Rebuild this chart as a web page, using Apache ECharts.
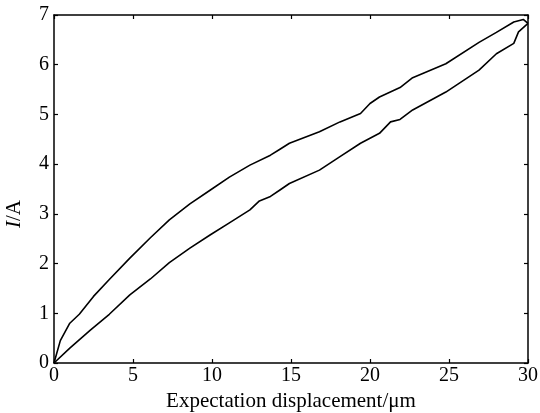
<!DOCTYPE html>
<html>
<head>
<meta charset="utf-8">
<script src="https://cdn.jsdelivr.net/npm/echarts@6/dist/echarts.min.js"></script>
<style>
  html, body { margin: 0; padding: 0; background: #fff; }
  #chart { width: 540px; height: 413px; }
</style>
</head>
<body>
<div id="chart"></div>
<script>
// upper branch of the loop
const upperX = [0, 0.4, 1.0, 1.6, 2.5, 3.5, 4.8, 6.1, 7.3, 8.6, 9.9, 11.1, 12.4, 13.7, 14.3, 14.9, 16.8, 18.1, 19.4, 20.0, 20.6, 21.9, 22.7, 24.8, 26.9, 28.0, 29.1, 29.7, 30]
const upperY = [0, 0.45, 0.8, 0.98, 1.34, 1.68, 2.11, 2.52, 2.88, 3.2, 3.48, 3.74, 3.98, 4.18, 4.3, 4.42, 4.65, 4.85, 5.02, 5.22, 5.35, 5.54, 5.74, 6.02, 6.45, 6.65, 6.86, 6.91, 6.83]
// lower branch of the loop
const lowerX = [0, 1.0, 2.3, 3.5, 4.8, 6.1, 7.3, 8.6, 9.9, 11.1, 12.4, 13.0, 13.7, 14.3, 14.9, 16.8, 18.1, 19.4, 20.6, 21.3, 21.9, 22.7, 24.8, 26.9, 28.0, 29.1, 29.4, 30]
const lowerY = [0, 0.30, 0.66, 0.98, 1.37, 1.69, 2.02, 2.31, 2.58, 2.82, 3.08, 3.26, 3.35, 3.48, 3.61, 3.88, 4.15, 4.42, 4.62, 4.85, 4.90, 5.09, 5.45, 5.89, 6.22, 6.43, 6.66, 6.83]

const font = 'Liberation Serif'
const chart = echarts.init(document.getElementById('chart'))

const tickStyle = { show: true, inside: true, length: 4, lineStyle: { color: '#000', width: 1.2 } }
const axisLine = { show: true, onZero: false, lineStyle: { color: '#000', width: 1.5 } }

const option = {
  backgroundColor: '#fff',
  animation: false,
  grid: { left: 54, top: 15, right: 12, bottom: 50, containLabel: false, outerBoundsMode: 'none' },
  xAxis: [
    {
      type: 'value', min: 0, max: 30, interval: 5,
      name: 'Expectation displacement/\u03bcm',
      nameLocation: 'middle', nameGap: 27,
      nameTextStyle: { fontFamily: font, fontSize: 21, color: '#000' },
      axisLine: axisLine,
      axisTick: tickStyle,
      axisLabel: { fontFamily: font, fontSize: 20, color: '#000', margin: 3 },
      splitLine: { show: false }
    },
    {
      type: 'value', min: 0, max: 30, interval: 5, position: 'top',
      axisLine: axisLine,
      axisTick: tickStyle,
      axisLabel: { show: false },
      splitLine: { show: false }
    }
  ],
  yAxis: [
    {
      type: 'value', min: 0, max: 7, interval: 1,
      name: '{i|I}/A',
      nameLocation: 'middle', nameGap: 29, nameRotate: 90,
      nameTextStyle: {
        fontFamily: font, fontSize: 21, color: '#000',
        padding: [0, 50, 0, 0],
        rich: { i: { fontFamily: font, fontSize: 21, fontStyle: 'italic', color: '#000' } }
      },
      axisLine: axisLine,
      axisTick: tickStyle,
      axisLabel: { fontFamily: font, fontSize: 20, color: '#000', margin: 5 },
      splitLine: { show: false }
    },
    {
      type: 'value', min: 0, max: 7, interval: 1, position: 'right',
      axisLine: axisLine,
      axisTick: tickStyle,
      axisLabel: { show: false },
      splitLine: { show: false }
    }
  ],
  series: [
    {
      name: 'upper', type: 'line', showSymbol: false, symbol: 'none',
      lineStyle: { color: '#000', width: 1.6 },
      data: upperX.map((x, i) => [x, upperY[i]])
    },
    {
      name: 'lower', type: 'line', showSymbol: false, symbol: 'none',
      lineStyle: { color: '#000', width: 1.6 },
      data: lowerX.map((x, i) => [x, lowerY[i]])
    }
  ]
}
chart.setOption(option)
</script>
</body>
</html>
